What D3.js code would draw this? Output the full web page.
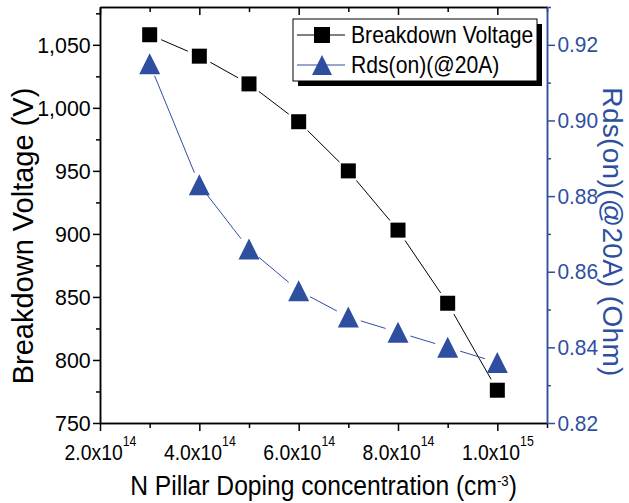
<!DOCTYPE html>
<html>
<head>
<meta charset="utf-8">
<script src="https://cdn.jsdelivr.net/npm/d3@7"></script>
<style>
  body { margin: 0; background: #fff; }
  svg { display: block; font-family: "Liberation Sans", Arial, sans-serif; }
</style>
</head>
<body>
<div id="chart"></div>
<script>
// data
const doping = [3e14, 4e14, 5e14, 6e14, 7e14, 8e14, 9e14, 1e15];
const breakdownVoltage = [1058, 1041, 1019, 989, 950, 903, 845, 776];
const rdsOn = [0.915, 0.883, 0.866, 0.855, 0.848, 0.844, 0.840, 0.836];

const xMajor = [2e14, 4e14, 6e14, 8e14, 1e15];
const xMinor = [3e14, 5e14, 7e14, 9e14, 1.1e15];
const xTickLabels = [["2.0x10", "14"], ["4.0x10", "14"], ["6.0x10", "14"], ["8.0x10", "14"], ["1.0x10", "15"]];
const leftMajor = [750, 800, 850, 900, 950, 1000, 1050];
const leftMinor = [775, 825, 875, 925, 975, 1025, 1075];
const rightMajor = [0.82, 0.84, 0.86, 0.88, 0.90, 0.92];
const rightMinor = [0.83, 0.85, 0.87, 0.89, 0.91, 0.93];
const seriesNames = ["Breakdown Voltage", "Rds(on)(@20A)"];

const blue = "#2e4fa0";
const W = 629, H = 503;
const pL = 100, pR = 547, pT = 7, pB = 423;

const svg = d3.select("#chart").append("svg").attr("width", W).attr("height", H);

const x = d3.scaleLinear().domain([2e14, 1.1e15]).range([pL, pR]);
const yL = d3.scaleLinear().domain([750, 1080]).range([pB, pT]);
const yR = d3.scaleLinear().domain([0.82, 0.93]).range([pB, pT]);

function styleAxis(g, color) {
  g.attr("font-family", null).attr("font-size", 22);
  g.selectAll("path.domain").attr("stroke", color).attr("stroke-width", 1.5);
  g.selectAll(".tick line").attr("stroke", color).attr("stroke-width", 1.5);
  g.selectAll(".tick text").attr("fill", color);
}

// bottom axis
const gBottom = svg.append("g").attr("transform", `translate(0,${pB})`)
  .call(d3.axisBottom(x).tickValues(xMajor).tickSize(8).tickSizeOuter(0));
styleAxis(gBottom, "#000");
gBottom.selectAll(".tick text").each(function (d, i) {
  const t = d3.select(this).text(null).attr("y", 37).attr("dy", 0)
    .attr("font-size", 22).attr("transform", "scale(0.88,1)");
  t.append("tspan").text(xTickLabels[i][0]);
  t.append("tspan").attr("font-size", 14).attr("dy", -14).text(xTickLabels[i][1]);
});
const gBottomMinor = svg.append("g").attr("transform", `translate(0,${pB})`)
  .call(d3.axisBottom(x).tickValues(xMinor).tickSize(5).tickSizeOuter(0).tickFormat(""));
styleAxis(gBottomMinor, "#000");

// top axis, ticks pointing in
const gTop = svg.append("g").attr("transform", `translate(0,${pT})`)
  .call(d3.axisTop(x).tickValues(xMajor).tickSize(-8).tickSizeOuter(0).tickFormat(""));
styleAxis(gTop, "#000");
const gTopMinor = svg.append("g").attr("transform", `translate(0,${pT})`)
  .call(d3.axisTop(x).tickValues(xMinor).tickSize(-5).tickSizeOuter(0).tickFormat(""));
styleAxis(gTopMinor, "#000");

// left axis
const gLeft = svg.append("g").attr("transform", `translate(${pL},0)`)
  .call(d3.axisLeft(yL).tickValues(leftMajor).tickSize(7).tickPadding(3).tickSizeOuter(0).tickFormat(d3.format(",")));
styleAxis(gLeft, "#000");
gLeft.selectAll(".tick text").attr("transform", "scale(0.93,1)").attr("font-size", 23);
const gLeftMinor = svg.append("g").attr("transform", `translate(${pL},0)`)
  .call(d3.axisLeft(yL).tickValues(leftMinor).tickSize(4).tickSizeOuter(0).tickFormat(""));
styleAxis(gLeftMinor, "#000");

// right axis
const gRight = svg.append("g").attr("transform", `translate(${pR},0)`)
  .call(d3.axisRight(yR).tickValues(rightMajor).tickSize(8).tickPadding(3).tickSizeOuter(0).tickFormat(d3.format(".2f")));
styleAxis(gRight, blue);
gRight.selectAll(".tick text").attr("transform", "scale(0.95,1)");
const gRightMinor = svg.append("g").attr("transform", `translate(${pR},0)`)
  .call(d3.axisRight(yR).tickValues(rightMinor).tickSize(4).tickSizeOuter(0).tickFormat(""));
styleAxis(gRightMinor, blue);

// axis titles
const xTitle = svg.append("text")
  .attr("transform", `translate(${(pL + pR) / 2},495) scale(0.88,1)`)
  .attr("text-anchor", "middle").attr("font-size", 28).attr("fill", "#000");
xTitle.append("tspan").text("N Pillar Doping concentration (cm");
xTitle.append("tspan").attr("font-size", 15).attr("dy", -9).text("-3");
xTitle.append("tspan").attr("dy", 9).text(")");

svg.append("text")
  .attr("transform", "translate(33,236) rotate(-90)")
  .attr("text-anchor", "middle").attr("font-size", 29).attr("fill", "#000")
  .text("Breakdown Voltage (V)");

svg.append("text")
  .attr("transform", "translate(603,232) rotate(90)")
  .attr("text-anchor", "middle").attr("font-size", 28).attr("fill", blue)
  .attr("letter-spacing", 0.3)
  .text("Rds(on)(@20A) (Ohm)");

// lines with a small gap around each symbol
function gapSegments(pts, gap) {
  const segs = [];
  for (let i = 0; i < pts.length - 1; i++) {
    const [x0, y0] = pts[i], [x1, y1] = pts[i + 1];
    const dx = x1 - x0, dy = y1 - y0, len = Math.hypot(dx, dy);
    if (len <= 2 * gap) continue;
    const ux = dx / len, uy = dy / len;
    segs.push([[x0 + ux * gap, y0 + uy * gap], [x1 - ux * gap, y1 - uy * gap]]);
  }
  return segs;
}

const bvPts = doping.map((d, i) => [x(d), yL(breakdownVoltage[i])]);
const rdsPts = doping.map((d, i) => [x(d), yR(rdsOn[i])]);

const line = d3.line();
svg.append("g").selectAll("path").data(gapSegments(bvPts, 12.5)).join("path")
  .attr("d", line).attr("stroke", "#000").attr("stroke-width", 1).attr("fill", "none");
svg.append("g").selectAll("path").data(gapSegments(rdsPts, 13)).join("path")
  .attr("d", line).attr("stroke", blue).attr("stroke-width", 1).attr("fill", "none");

const tri = s => `M0,${-s / 2}L${s / 2},${s / 2}L${-s / 2},${s / 2}Z`;

svg.append("g").selectAll("path").data(rdsPts).join("path")
  .attr("transform", d => `translate(${d[0]},${d[1]})`)
  .attr("d", tri(21)).attr("fill", blue);

svg.append("g").selectAll("rect").data(bvPts).join("rect")
  .attr("x", d => d[0] - 7.5).attr("y", d => d[1] - 7.5)
  .attr("width", 15).attr("height", 15).attr("fill", "#000");

// legend
const lg = svg.append("g").attr("transform", "translate(293,19)");
lg.append("rect").attr("x", 5).attr("y", 5).attr("width", 244).attr("height", 62).attr("fill", "#000");
lg.append("rect").attr("x", 0).attr("y", 0).attr("width", 244).attr("height", 62)
  .attr("fill", "#fff").attr("stroke", "#000").attr("stroke-width", 1);

const rows = lg.selectAll("g.row").data(seriesNames).join("g")
  .attr("class", "row").attr("transform", (d, i) => `translate(0,${16 + i * 30})`);
rows.append("line").attr("x1", 4).attr("x2", 52).attr("y1", 0).attr("y2", 0)
  .attr("stroke", (d, i) => i === 0 ? "#000" : blue).attr("stroke-width", 1);
rows.each(function (d, i) {
  const r = d3.select(this);
  if (i === 0) {
    r.append("rect").attr("x", 29 - 8).attr("y", -8).attr("width", 16).attr("height", 16).attr("fill", "#000");
  } else {
    r.append("path").attr("transform", "translate(29,0)").attr("d", tri(20)).attr("fill", blue);
  }
});
rows.append("text").attr("transform", "translate(58,8) scale(0.92,1)")
  .attr("font-size", 23).attr("fill", "#000").text(d => d);
</script>
</body>
</html>
